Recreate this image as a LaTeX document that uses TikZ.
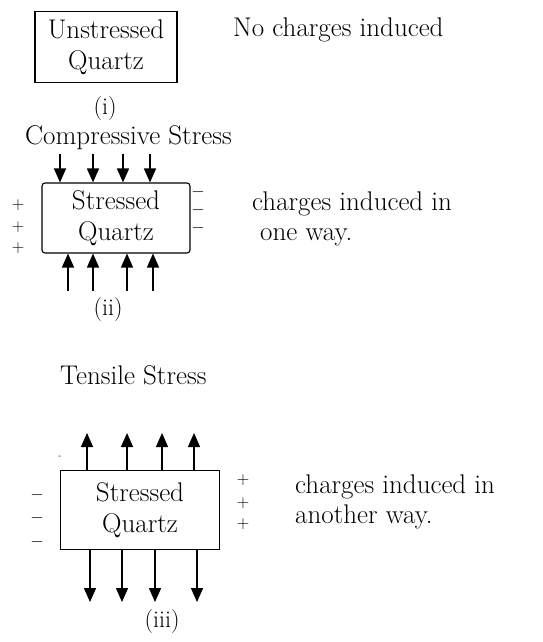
\documentclass[tikz,border=0pt]{standalone}
\usetikzlibrary{positioning,arrows.meta}
\tikzset{
  crystal/.style={draw, line width=1.1pt, align=center, inner sep=2pt,
                  font=\fontsize{27}{31}\selectfont},
  force/.style={-{Triangle[length=14pt,width=12pt]}, line width=1.4pt},
  sign/.style={font=\fontsize{17}{17}\selectfont, inner sep=0pt},
  lbl/.style={font=\fontsize{27}{30}\selectfont, align=left, inner sep=0pt},
  tag/.style={font=\fontsize{24}{26}\selectfont, inner sep=0pt},
}

\begin{document}
\begin{tikzpicture}[x=1pt, y=-1pt]
\useasboundingbox (0,0) rectangle (543,642);

%% ── (i) no stress ────────────────────────────────────────────────────────
\node[crystal, minimum width=142pt, minimum height=71pt] (qi) at (106,47)
  {Unstressed\\Quartz};
\node[lbl, anchor=west] (ni) at (233,30) {No charges induced};
\node[tag] (ti) at (105,109) {(i)};

%% ── (ii) compressive stress ──────────────────────────────────────────────
\node[lbl, anchor=west] (hii) at (25,138) {Compressive Stress};
\node[crystal, minimum width=148pt, minimum height=70pt, rounded corners=3pt]
  (qii) at (116,218) {Stressed\\Quartz};
\foreach \x [count=\i] in {60,93,123,150} {
  \coordinate (ct\i) at (\x,154);
  \draw[force] (ct\i) -- (ct\i |- qii.north);
}
\foreach \x [count=\i] in {68,93,127,153} {
  \coordinate (cb\i) at (\x,291);
  \draw[force] (cb\i) -- (cb\i |- qii.south);
}
\foreach \y [count=\i] in {205,227,248}
  \node[sign] (pii\i) at (18,\y) {$+$};
\foreach \y [count=\i] in {192,210,228}
  \node[sign] (mii\i) at (198,\y) {$-$};
\node[lbl, anchor=west] (nii) at (252,219)
  {charges induced in\\\hspace*{8pt}one way.};
\node[tag] (tii) at (108,310) {(ii)};

%% ── (iii) tensile stress ─────────────────────────────────────────────────
\node[lbl, anchor=west] (hiii) at (60,375) {Tensile Stress};
\node[crystal, minimum width=159pt, minimum height=79pt] (qiii) at (140,510)
  {Stressed\\Quartz};
\foreach \x [count=\i] in {87,127,162,194} {
  \coordinate (tt\i) at (\x,433);
  \draw[force] (tt\i |- qiii.north) -- (tt\i);
}
\foreach \x [count=\i] in {90,122,155,197} {
  \coordinate (tb\i) at (\x,602);
  \draw[force] (tb\i |- qiii.south) -- (tb\i);
}
\node[sign, font=\small] (dot) at (60,457) {-};
\foreach \y [count=\i] in {495,518,542}
  \node[sign] (miii\i) at (37,\y) {$-$};
\foreach \y [count=\i] in {480,503,524}
  \node[sign] (piii\i) at (243,\y) {$+$};
\node[lbl, anchor=west] (niii) at (295,502)
  {charges induced in\\another way.};
\node[tag] (tiii) at (162,622) {(iii)};

\end{tikzpicture}
\end{document}
